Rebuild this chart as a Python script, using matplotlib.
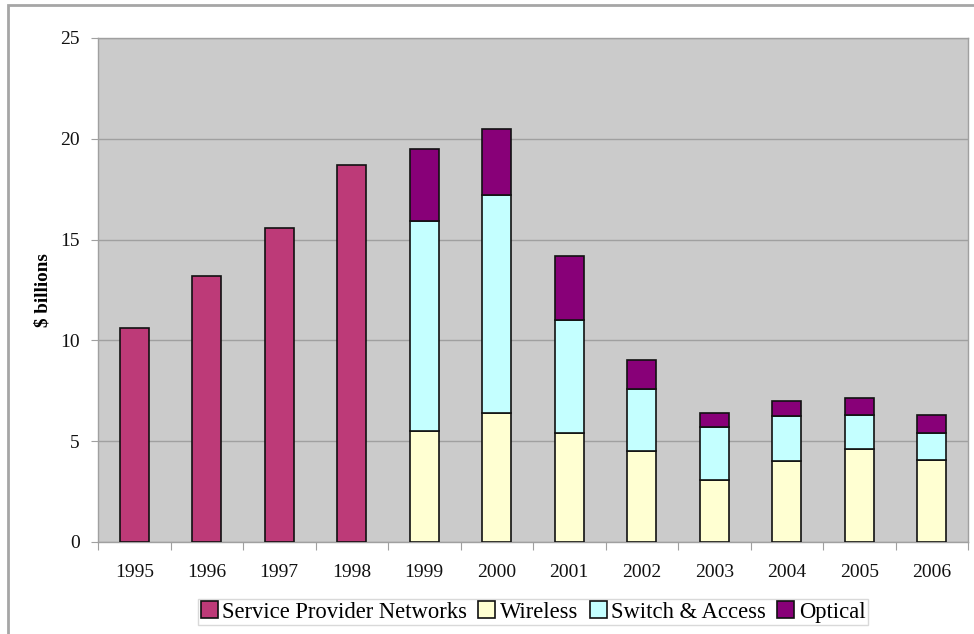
import numpy as np
import matplotlib
matplotlib.use("Agg")
import matplotlib.pyplot as plt
from matplotlib.patches import Rectangle

years = ["1995", "1996", "1997", "1998", "1999", "2000",
         "2001", "2002", "2003", "2004", "2005", "2006"]
spn = [10.6, 13.2, 15.6, 18.7, 0, 0, 0, 0, 0, 0, 0, 0]
wireless = [0, 0, 0, 0, 5.5, 6.4, 5.4, 4.5, 3.1, 4.0, 4.6, 4.05]
switch = [0, 0, 0, 0, 10.4, 10.8, 5.6, 3.1, 2.6, 2.25, 1.7, 1.35]
optical = [0, 0, 0, 0, 3.6, 3.3, 3.2, 1.45, 0.7, 0.75, 0.85, 0.9]

plt.rcParams['font.family'] = ['Liberation Serif', 'DejaVu Serif']

fig = plt.figure(figsize=(9.74, 6.34), dpi=100)
ax = fig.add_axes([98/974, 1 - 542/634, 870/974, 504/634])

# outer frame like the original chart area
fig.patches.append(Rectangle((8/974, -0.1), 1.1, 629/634 + 0.1,
                             transform=fig.transFigure, fill=False,
                             edgecolor="#a6a6a6", linewidth=2))

x = np.arange(len(years))
w = 0.4
ec = "#111111"
lw = 1.2
spn_a = np.array(spn)
wl = np.array(wireless)
sw = np.array(switch)
op = np.array(optical)

mask1 = spn_a > 0
mask2 = wl > 0
ax.bar(x[mask1], spn_a[mask1], w, color="#bd3a78", edgecolor=ec, linewidth=lw,
       label="Service Provider Networks", zorder=3)
ax.bar(x[mask2], wl[mask2], w, color="#ffffd2", edgecolor=ec, linewidth=lw,
       label="Wireless", zorder=3)
ax.bar(x[mask2], sw[mask2], w, bottom=wl[mask2], color="#c4ffff", edgecolor=ec,
       linewidth=lw, label="Switch & Access", zorder=3)
ax.bar(x[mask2], op[mask2], w, bottom=wl[mask2] + sw[mask2], color="#880078",
       edgecolor=ec, linewidth=lw, label="Optical", zorder=3)

ax.set_xlim(-0.5, len(years) - 0.5)
ax.set_ylim(0, 25)
ax.set_facecolor("#cbcbcb")
ax.set_yticks([0, 5, 10, 15, 20, 25])
ax.yaxis.grid(True, color="#a0a0a0", linewidth=1)
ax.set_axisbelow(True)
for s in ax.spines.values():
    s.set_color("#a0a0a0")
    s.set_linewidth(1)

# x ticks between categories, labels centred under bars
ax.set_xticks(np.arange(-0.5, len(years), 1))
ax.set_xticklabels([])
ax.set_xticks(x, minor=True)
ax.set_xticklabels(years, minor=True)
ax.tick_params(axis="x", which="major", length=6, color="#a0a0a0", direction="out")
ax.tick_params(axis="x", which="minor", length=0, pad=16, labelsize=14, labelcolor="#111111")
ax.tick_params(axis="y", length=5, color="#a0a0a0", pad=8, labelsize=14, labelcolor="#111111")

fig.text(43/974, 1 - 290/634, "$ billions", rotation=90, ha="center", va="center",
         fontsize=13.8, fontweight="bold")

leg = fig.legend(loc="center", bbox_to_anchor=(533/974, 1 - 612/634), ncol=4,
                 fontsize=16.3, frameon=True, fancybox=False, handlelength=0.75,
                 handleheight=0.75, handletextpad=0.2, columnspacing=0.5,
                 borderpad=0.12, borderaxespad=0)
leg.get_frame().set_edgecolor("#d0d0d0")
leg.get_frame().set_linewidth(1)

fig.savefig("out.png", dpi=100)
